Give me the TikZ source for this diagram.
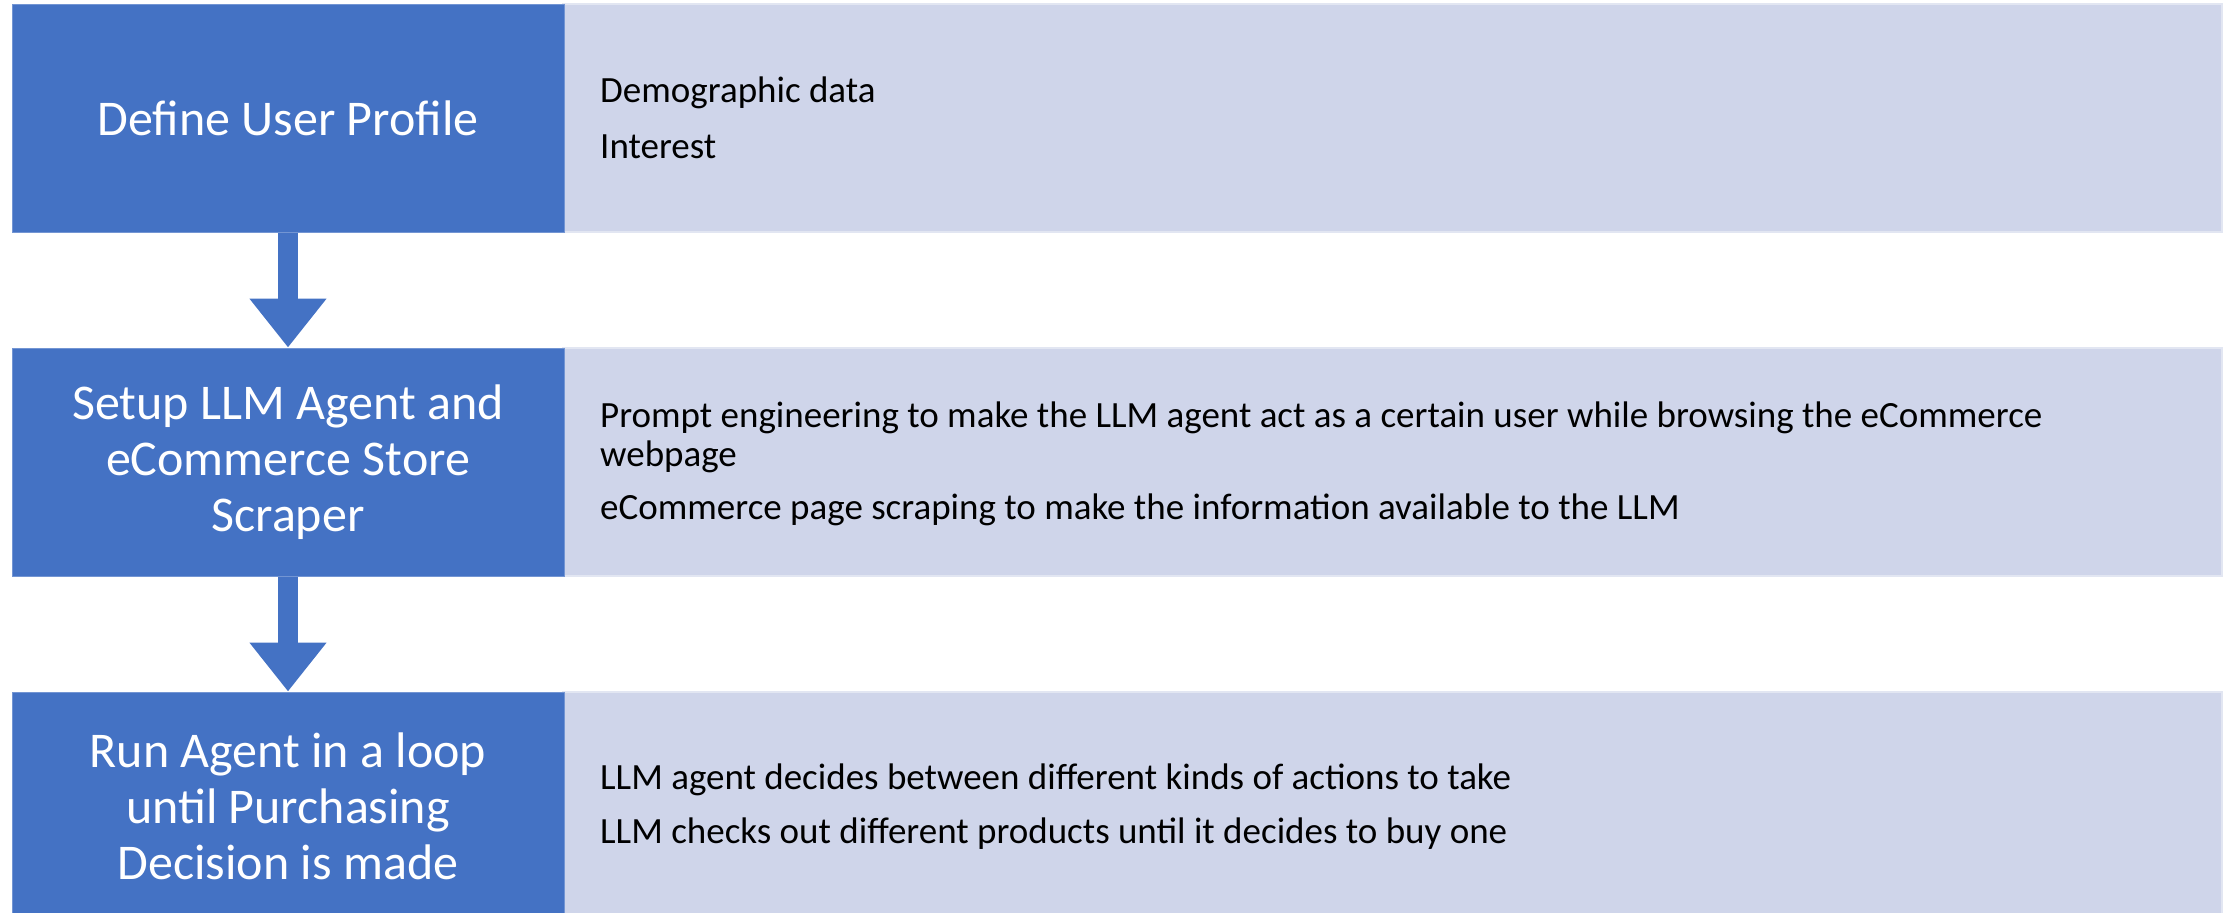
\documentclass[tikz,border=0pt]{standalone}
\usepackage{fontspec}
\setmainfont{Carlito}
\usetikzlibrary{arrows.meta}
\definecolor{accblue}{HTML}{4472C4}
\definecolor{lightbg}{HTML}{CFD5EA}
\begin{document}
\begin{tikzpicture}[x=1pt,y=-1pt,
  leftbox/.style={fill=accblue, draw=accblue!75!white, line width=1pt, text=white, align=center,
    font=\fontsize{50}{56}\selectfont, inner sep=0pt, minimum width=552pt, minimum height=228pt},
  rightbox/.style={fill=lightbg, draw=lightbg!60!white, line width=1.5pt, inner sep=0pt,
    minimum width=1659pt, minimum height=228pt},
  itemtext/.style={anchor=base west, inner sep=0pt, text=black,
    font=\fontsize{37}{40}\selectfont},
  flowarrow/.style={accblue, line width=20pt, -{Triangle[width=74pt, length=49pt]}}]
\useasboundingbox (0,0) rectangle (2233,913);
% right panels
\node[rightbox] (r1) at (1392.5,118) {};
\node[rightbox] (r2) at (1392.5,462) {};
\node[rightbox] (r3) at (1392.5,806) {};
% left step boxes
\node[leftbox] (b1) at (288,118) {Define User Profile};
\node[leftbox] (b2) at (288,462) {Setup LLM Agent and\\eCommerce Store\\Scraper};
\node[leftbox] (b3) at (288,806) {Run Agent in a loop\\until Purchasing\\Decision is made};
% arrows
\draw[flowarrow] (b1.south) -- (b2.north);
\draw[flowarrow] (b2.south) -- (b3.north);
% texts
\node[itemtext] (t1a) at (600,102) {Demographic data};
\node[itemtext] (t1b) at (600,158) {Interest};
\node[itemtext] (t2a) at (600,427) {Prompt engineering to make the LLM agent act as a certain user while browsing the eCommerce};
\node[itemtext] (t2w) at (600,466) {webpage};
\node[itemtext] (t2b) at (600,519) {eCommerce page scraping to make the information available to the LLM};
\node[itemtext] (t3a) at (600,789) {LLM agent decides between different kinds of actions to take};
\node[itemtext] (t3b) at (600,843) {LLM checks out different products until it decides to buy one};
\end{tikzpicture}
\end{document}
